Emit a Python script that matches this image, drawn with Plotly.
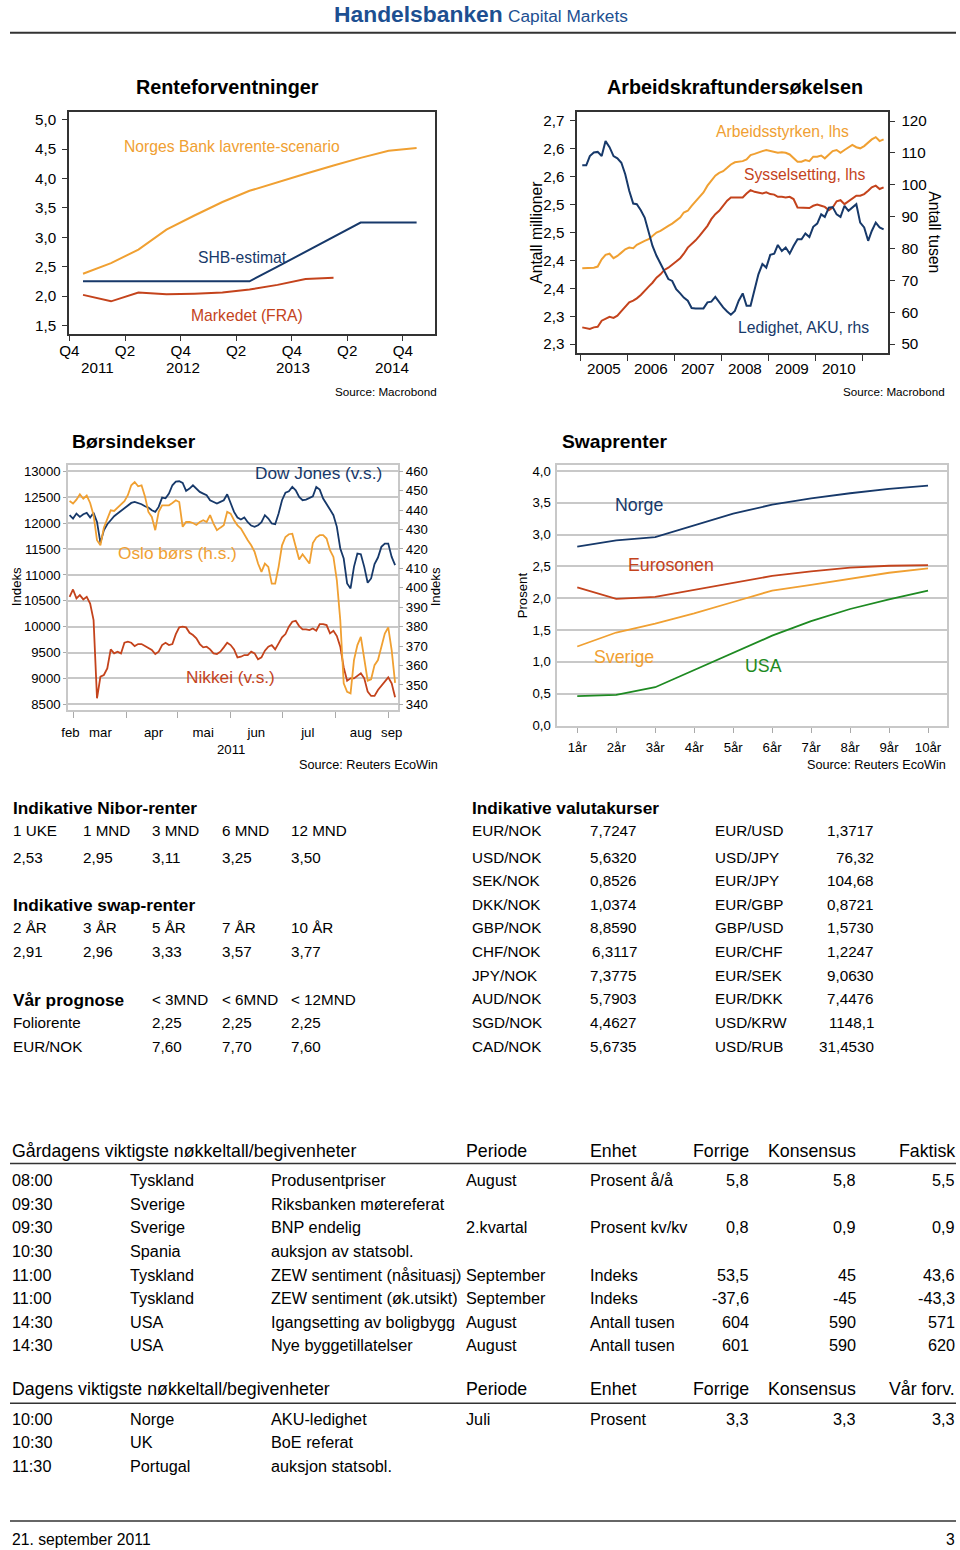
import pandas as pd
import plotly.graph_objects as go

# ======================= DATA =======================
# --- Renteforventninger (quarterly, plotted mid-quarter) ---
rente_dates = ["2011-11-15", "2012-02-15", "2012-05-15", "2012-08-15", "2012-11-15",
               "2013-02-15", "2013-05-15", "2013-08-15", "2013-11-15", "2014-02-15",
               "2014-05-15", "2014-08-15", "2014-11-15"]
norges_bank = [2.38, 2.56, 2.79, 3.13, 3.37, 3.60, 3.79, 3.94, 4.08, 4.22, 4.35, 4.47, 4.52]
shb_estimat = [2.25, 2.25, 2.25, 2.25, 2.25, 2.25, 2.25, 2.50, 2.75, 3.00, 3.25, 3.25, 3.25]
markedet_fra = [2.02, 1.91, 2.06, 2.03, 2.04, 2.06, 2.11, 2.19, 2.29, 2.31]
rente_tick_dates = ["2011-10-01", "2012-04-01", "2012-10-01", "2013-04-01",
                    "2013-10-01", "2014-04-01", "2014-10-01"]
rente_tick_text = ["Q4", "Q2", "Q4", "Q2", "Q4", "Q2", "Q4"]
rente_years = ["2011", "2012", "2013", "2014"]
rente_yticks = [1.5, 2.0, 2.5, 3.0, 3.5, 4.0, 4.5, 5.0]

# --- Arbeidskraftundersøkelsen (monthly, Jan 2005 - Jun 2011) ---
arbeidsstyrken = [2.436, 2.436, 2.436, 2.437, 2.439, 2.452, 2.460, 2.462, 2.454, 2.458,
                  2.464, 2.470, 2.473, 2.472, 2.478, 2.482, 2.485, 2.488, 2.494, 2.500,
                  2.503, 2.508, 2.512, 2.516, 2.521, 2.527, 2.536, 2.539, 2.548, 2.556,
                  2.562, 2.572, 2.584, 2.593, 2.602, 2.607, 2.610, 2.616, 2.622, 2.626,
                  2.627, 2.628, 2.631, 2.639, 2.641, 2.644, 2.646, 2.648, 2.646, 2.644,
                  2.643, 2.644, 2.643, 2.640, 2.633, 2.627, 2.627, 2.630, 2.628, 2.636,
                  2.636, 2.638, 2.633, 2.640, 2.646, 2.648, 2.643, 2.648, 2.652, 2.657,
                  2.653, 2.651, 2.655, 2.661, 2.667, 2.671, 2.664, 2.667]
sysselsetting = [2.330, 2.329, 2.327, 2.330, 2.331, 2.342, 2.345, 2.349, 2.347, 2.351,
                 2.359, 2.366, 2.375, 2.378, 2.382, 2.388, 2.396, 2.403, 2.410, 2.419,
                 2.425, 2.433, 2.437, 2.442, 2.448, 2.454, 2.462, 2.473, 2.479, 2.486,
                 2.494, 2.504, 2.512, 2.524, 2.533, 2.539, 2.548, 2.557, 2.563, 2.563,
                 2.562, 2.563, 2.570, 2.576, 2.573, 2.572, 2.570, 2.572, 2.569, 2.568,
                 2.564, 2.564, 2.563, 2.564, 2.560, 2.545, 2.545, 2.545, 2.544, 2.548,
                 2.550, 2.548, 2.546, 2.540, 2.545, 2.556, 2.558, 2.551, 2.556, 2.561,
                 2.566, 2.566, 2.569, 2.575, 2.581, 2.584, 2.578, 2.581]
ledighet = [106.1, 106.1, 109.0, 110.1, 110.3, 109.0, 113.7, 111.8, 109.0, 108.3,
            106.9, 103.3, 98.1, 94.1, 93.9, 92.0, 89.7, 85.5, 80.8, 77.7,
            75.3, 73.0, 70.4, 69.8, 67.2, 65.9, 64.6, 63.6, 61.3, 61.2,
            61.2, 61.2, 63.1, 63.3, 64.8, 63.1, 61.5, 60.2, 59.2, 60.4,
            63.6, 65.9, 62.0, 62.0, 66.7, 71.9, 75.1, 74.0, 78.0, 78.4,
            81.1, 79.2, 80.3, 78.4, 80.8, 82.9, 82.9, 84.7, 83.6, 86.8,
            87.8, 90.7, 89.9, 92.8, 93.0, 90.7, 89.9, 93.4, 91.8, 92.8,
            93.9, 88.1, 86.6, 82.4, 85.5, 88.1, 86.6, 86.0]
aku_years = [2005, 2006, 2007, 2008, 2009, 2010]
aku_left_ticks = [2.30, 2.35, 2.40, 2.45, 2.50, 2.55, 2.60, 2.65, 2.70]
aku_left_text = ["2,3", "2,3", "2,4", "2,4", "2,5", "2,5", "2,6", "2,6", "2,7"]
aku_right_ticks = [50, 60, 70, 80, 90, 100, 110, 120]

# --- Børsindekser (every second day from 27 Feb 2011) ---
dow_jones = [12152, 12087, 12184, 12120, 12171, 12197, 12107, 12197, 12023, 11618,
             11862, 11978, 12055, 12132, 12184, 12235, 12300, 12344, 12389, 12409,
             12389, 12364, 12325, 12300, 12248, 12216, 12312, 12492, 12479, 12569,
             12730, 12801, 12807, 12775, 12621, 12666, 12730, 12666, 12602, 12569,
             12537, 12441, 12409, 12377, 12409, 12441, 12557, 12377, 12216, 12107,
             12068, 12107, 12017, 11952, 11927, 11959, 12017, 12152, 12087, 11991,
             11978, 12184, 12441, 12589, 12614, 12698, 12634, 12505, 12441, 12454,
             12479, 12518, 12698, 12647, 12473, 12377, 12261, 12152, 11927, 11509,
             11316, 10834, 10738, 11155, 11413, 11400, 11155, 10847, 10931, 11207,
             11335, 11541, 11605, 11605, 11348, 11188]
oslo_bors = [444.7, 443.4, 445.4, 448.2, 445.9, 447.5, 443.7, 437.4, 424.5, 421.9,
             431.0, 436.0, 439.9, 439.6, 441.3, 443.4, 444.6, 447.7, 452.8, 454.5,
             452.3, 452.8, 447.1, 439.1, 436.5, 429.7, 439.1, 442.5, 442.5, 442.5,
             443.7, 445.1, 444.2, 431.4, 433.9, 433.9, 433.4, 432.4, 433.9, 434.8,
             433.9, 437.4, 433.1, 429.7, 431.0, 432.2, 439.1, 438.2, 434.8, 432.2,
             430.5, 427.1, 424.5, 421.9, 418.5, 412.5, 408.2, 412.5, 410.8, 402.2,
             402.2, 410.8, 421.9, 426.2, 427.6, 427.9, 421.9, 414.6, 417.3, 415.1,
             412.5, 423.1, 425.9, 427.1, 427.1, 425.4, 419.4, 415.9, 403.9, 383.4,
             350.8, 346.5, 345.7, 362.8, 370.5, 374.8, 362.8, 352.2, 352.9, 360.2,
             362.8, 369.7, 376.5, 379.6, 367.9, 351.1]
nikkei = [10577, 10718, 10545, 10609, 10526, 10577, 10448, 10127, 8617, 9035,
          9067, 9195, 9562, 9484, 9517, 9484, 9690, 9709, 9690, 9626,
          9664, 9664, 9626, 9581, 9549, 9472, 9517, 9645, 9690, 9645,
          9664, 9857, 9986, 9999, 9986, 9883, 9838, 9774, 9664, 9600,
          9613, 9562, 9484, 9472, 9517, 9600, 9690, 9645, 9562, 9407,
          9420, 9452, 9452, 9517, 9484, 9369, 9407, 9536, 9613, 9645,
          9562, 9677, 9793, 9857, 9999, 10095, 10114, 10011, 9947, 9947,
          9934, 9966, 9921, 10050, 10050, 10031, 9870, 9921, 9819, 9613,
          9214, 8957, 9002, 9002, 9047, 9099, 9002, 8745, 8662, 8662,
          8777, 8855, 8938, 9022, 8906, 8636]
bors_months = ["feb", "mar", "apr", "mai", "jun", "jul", "aug", "sep"]
bors_label_dates = ["2011-02-27 12:00", "2011-03-17", "2011-04-17", "2011-05-16",
                    "2011-06-16", "2011-07-16", "2011-08-16", "2011-09-03"]
bors_month_starts = ["2011-03-01", "2011-04-01", "2011-05-01", "2011-06-01",
                     "2011-07-01", "2011-08-01", "2011-09-01"]
bors_left_ticks = [8500, 9000, 9500, 10000, 10500, 11000, 11500, 12000, 12500, 13000]
bors_right_ticks = [340, 350, 360, 370, 380, 390, 400, 410, 420, 430, 440, 450, 460]

# --- Swaprenter ---
tenors = ["1år", "2år", "3år", "4år", "5år", "6år", "7år", "8år", "9år", "10år"]
swap_norge = [2.81, 2.91, 2.96, 3.15, 3.33, 3.47, 3.57, 3.65, 3.72, 3.77]
swap_euro = [2.17, 1.99, 2.02, 2.13, 2.24, 2.35, 2.42, 2.48, 2.51, 2.52]
swap_sverige = [1.24, 1.46, 1.60, 1.76, 1.94, 2.12, 2.21, 2.31, 2.40, 2.47]
swap_usa = [0.46, 0.48, 0.60, 0.87, 1.14, 1.41, 1.64, 1.83, 1.98, 2.12]
swap_yticks = [0.0, 0.5, 1.0, 1.5, 2.0, 2.5, 3.0, 3.5, 4.0]

# --- Tables ---
nibor_tenors = ["1 UKE", "1 MND", "3 MND", "6 MND", "12 MND"]
nibor_rates = ["2,53", "2,95", "3,11", "3,25", "3,50"]
swap_tenors = ["2 ÅR", "3 ÅR", "5 ÅR", "7 ÅR", "10 ÅR"]
swap_rates = ["2,91", "2,96", "3,33", "3,57", "3,77"]
prognose_horizons = ["< 3MND", "< 6MND", "< 12MND"]
prognose_rows = ["Foliorente", "EUR/NOK"]
prognose_values = [["2,25", "2,25", "2,25"], ["7,60", "7,70", "7,60"]]

fx_left_names = ["EUR/NOK", "USD/NOK", "SEK/NOK", "DKK/NOK", "GBP/NOK",
                 "CHF/NOK", "JPY/NOK", "AUD/NOK", "SGD/NOK", "CAD/NOK"]
fx_left_values = ["7,7247", "5,6320", "0,8526", "1,0374", "8,8590",
                  "6,3117", "7,3775", "5,7903", "4,4627", "5,6735"]
fx_right_names = ["EUR/USD", "USD/JPY", "EUR/JPY", "EUR/GBP", "GBP/USD",
                  "EUR/CHF", "EUR/SEK", "EUR/DKK", "USD/KRW", "USD/RUB"]
fx_right_values = ["1,3717", "76,32", "104,68", "0,8721", "1,5730",
                   "1,2247", "9,0630", "7,4476", "1148,1", "31,4530"]

ev_headers_y = ["Gårdagens viktigste nøkkeltall/begivenheter", "Periode", "Enhet",
                "Forrige", "Konsensus", "Faktisk"]
ev_time_y = ["08:00", "09:30", "09:30", "10:30", "11:00", "11:00", "14:30", "14:30"]
ev_country_y = ["Tyskland", "Sverige", "Sverige", "Spania", "Tyskland", "Tyskland", "USA", "USA"]
ev_event_y = ["Produsentpriser", "Riksbanken møtereferat", "BNP endelig", "auksjon av statsobl.",
              "ZEW sentiment (nåsituasj)", "ZEW sentiment (øk.utsikt)",
              "Igangsetting av boligbygg", "Nye byggetillatelser"]
ev_period_y = ["August", "", "2.kvartal", "", "September", "September", "August", "August"]
ev_unit_y = ["Prosent å/å", "", "Prosent kv/kv", "", "Indeks", "Indeks", "Antall tusen", "Antall tusen"]
ev_prev_y = ["5,8", "", "0,8", "", "53,5", "-37,6", "604", "601"]
ev_cons_y = ["5,8", "", "0,9", "", "45", "-45", "590", "590"]
ev_act_y = ["5,5", "", "0,9", "", "43,6", "-43,3", "571", "620"]

ev_headers_t = ["Dagens viktigste nøkkeltall/begivenheter", "Periode", "Enhet",
                "Forrige", "Konsensus", "Vår forv."]
ev_time_t = ["10:00", "10:30", "11:30"]
ev_country_t = ["Norge", "UK", "Portugal"]
ev_event_t = ["AKU-ledighet", "BoE referat", "auksjon statsobl."]
ev_period_t = ["Juli", "", ""]
ev_unit_t = ["Prosent", "", ""]
ev_prev_t = ["3,3", "", ""]
ev_cons_t = ["3,3", "", ""]
ev_fc_t = ["3,3", "", ""]

# ======================= STYLE =======================
# Positions below are given in screenshot pixels; the photographed page maps
# figure pixels to screenshot pixels as  X = 10 + 0.985*x,  Y = 1.2 + 0.9953*y.
FW, FH = 960, 1550
SX, OXI = 0.985, 10.0
SY, OYI = 0.9953, 1.2
FS = 1 / SX
FONT = "Liberation Sans, Arial, sans-serif"
ORANGE = "#F0A032"
NAVY = "#17396A"
RED = "#C4431C"
GREEN = "#1E8A22"
DARK = "#333333"
LIGHT = "#C8C8C8"


def px(x):
    return ((x - OXI) / SX) / FW


def py(y):
    return 1 - ((y - OYI) / SY) / FH


def comma(v, d=1):
    return f"{v:.{d}f}".replace(".", ",")


def f(size):
    return dict(size=size * FS, family=FONT, color="#000")


annotations = []


def A(x, y, text, size=15, color="#000", bold=False, xanchor="left", angle=0):
    shift = -2 if xanchor == "left" else (2 if xanchor == "right" else 0)
    xx = max(px(x + shift), 0.0)
    annotations.append(dict(
        x=xx, y=py(y), xref="paper", yref="paper",
        text=f"<b>{text}</b>" if bold else text, showarrow=False,
        xanchor=xanchor, yanchor="middle", textangle=angle,
        font=dict(size=size * FS, color=color, family=FONT)))


fig = go.Figure()


def line(x, y, color, xa, ya, width=2.0):
    fig.add_trace(go.Scatter(x=x, y=y, mode="lines", line=dict(color=color, width=width),
                             xaxis=xa, yaxis=ya, showlegend=False, hoverinfo="skip"))


# ---- chart 1
line(rente_dates, norges_bank, ORANGE, "x", "y")
line(rente_dates, shb_estimat, NAVY, "x", "y")
line(rente_dates[:len(markedet_fra)], markedet_fra, RED, "x", "y")

# ---- chart 2
aku_dates = pd.date_range("2005-01-01", periods=len(arbeidsstyrken), freq="MS") + pd.Timedelta(days=14)
line(aku_dates, arbeidsstyrken, ORANGE, "x2", "y2")
line(aku_dates[:len(sysselsetting)], sysselsetting, RED, "x2", "y2")
line(aku_dates[:len(ledighet)], ledighet, NAVY, "x2", "y3")

# ---- chart 3
bors_dates = pd.date_range("2011-02-27", periods=len(dow_jones), freq="2D")
line(bors_dates, dow_jones, NAVY, "x3", "y4", 1.8)
line(bors_dates[:len(oslo_bors)], oslo_bors, ORANGE, "x3", "y5", 1.8)
line(bors_dates[:len(nikkei)], nikkei, RED, "x3", "y4", 1.8)

# ---- chart 4
line(tenors, swap_norge, NAVY, "x4", "y6", 1.8)
line(tenors, swap_euro, RED, "x4", "y6", 1.8)
line(tenors, swap_sverige, ORANGE, "x4", "y6", 1.8)
line(tenors, swap_usa, GREEN, "x4", "y6", 1.8)

layout = dict(
    width=FW, height=FH, autosize=False,
    margin=dict(l=0, r=0, t=0, b=0),
    paper_bgcolor="white", plot_bgcolor="white",
    showlegend=False,
    font=dict(family=FONT, color="#000"),
    # chart 1
    xaxis=dict(domain=[px(69), px(435)], anchor="y", type="date",
               range=["2011-09-30", "2015-01-15"], tickmode="array",
               tickvals=rente_tick_dates, ticktext=rente_tick_text,
               ticks="", showline=True, mirror=True,
               linecolor=DARK, linewidth=1.5, showgrid=False, zeroline=False, tickfont=f(15),
               ticklabelstandoff=2,
               minor=dict(tickmode="array", tickvals=rente_tick_dates, ticks="outside",
                          ticklen=5, tickcolor=DARK, showgrid=False)),
    yaxis=dict(domain=[py(334), py(111)], anchor="x", range=[1.347, 5.136],
               tickmode="array", tickvals=rente_yticks,
               ticktext=[comma(v) for v in rente_yticks],
               ticks="outside", ticklen=5, tickcolor=DARK, showline=True, mirror=True,
               linecolor=DARK, linewidth=1.5, showgrid=False, zeroline=False, tickfont=f(15),
               ticklabelstandoff=3),
    # chart 2
    xaxis2=dict(domain=[px(577), px(888)], anchor="y2", type="date",
                range=["2004-12-07", "2011-07-22"], tickmode="array",
                tickvals=[f"{y}-07-02" for y in aku_years], ticktext=[str(y) for y in aku_years],
                ticks="", showline=True, mirror=True, linecolor=DARK, linewidth=1.5,
                showgrid=False, zeroline=False, tickfont=f(15), ticklabelstandoff=1,
                minor=dict(tickmode="array",
                           tickvals=[f"{y}-01-01" for y in aku_years + [aku_years[-1] + 1]],
                           ticks="outside", ticklen=6, tickcolor=DARK, showgrid=False)),
    yaxis2=dict(domain=[py(353), py(111)], anchor="x2", range=[2.2833, 2.7167],
                tickmode="array", tickvals=aku_left_ticks, ticktext=aku_left_text,
                ticks="outside", ticklen=5, tickcolor=DARK, showline=True, mirror=True,
                linecolor=DARK, linewidth=1.5, showgrid=False, zeroline=False, tickfont=f(15),
                ticklabelstandoff=3),
    yaxis3=dict(overlaying="y2", side="right", anchor="x2", range=[47.07, 122.93],
                tickmode="array", tickvals=aku_right_ticks,
                ticktext=[str(v) for v in aku_right_ticks],
                ticks="outside", ticklen=6, tickcolor=DARK, showline=False,
                showgrid=False, zeroline=False, tickfont=f(15), ticklabelstandoff=3),
    # chart 3
    xaxis3=dict(domain=[px(68), px(398)], anchor="y4", type="date",
                range=["2011-02-26 02:00", "2011-09-06 19:00"], tickmode="array",
                tickvals=bors_label_dates, ticktext=bors_months, ticks="",
                showline=True, mirror=True, linecolor=LIGHT, linewidth=1.5,
                showgrid=False, zeroline=False, tickfont=f(13), ticklabelstandoff=9,
                minor=dict(tickmode="array", tickvals=bors_month_starts, ticks="outside",
                           ticklen=6, tickcolor="#AAAAAA", showgrid=False)),
    yaxis4=dict(domain=[py(710), py(465)], anchor="x3", range=[8391, 13116],
                tickmode="array", tickvals=bors_left_ticks,
                ticktext=[str(v) for v in bors_left_ticks],
                ticks="outside", ticklen=3, tickcolor="#AAAAAA", showline=True, mirror=True,
                linecolor=LIGHT, linewidth=1.5, showgrid=True, gridcolor=LIGHT, gridwidth=1.5,
                zeroline=False, tickfont=f(13), ticklabelstandoff=0),
    yaxis5=dict(overlaying="y4", side="right", anchor="x3", range=[337.1, 463.1],
                tickmode="array", tickvals=bors_right_ticks,
                ticktext=[str(v) for v in bors_right_ticks],
                ticks="outside", ticklen=4, tickcolor="#AAAAAA", showline=False,
                showgrid=False, zeroline=False, tickfont=f(13), ticklabelstandoff=0),
    # chart 4
    xaxis4=dict(domain=[px(557), px(947)], anchor="y6", type="category",
                range=[-0.514, 9.497], ticks="outside", ticklen=5, tickcolor="#AAAAAA",
                showline=True, mirror=True, linecolor=LIGHT, linewidth=1.5,
                showgrid=False, zeroline=False, tickfont=f(13), ticklabelstandoff=3),
    yaxis6=dict(domain=[py(726), py(465)], anchor="x4", range=[-0.01, 4.09],
                tickmode="array", tickvals=swap_yticks,
                ticktext=[comma(v) for v in swap_yticks],
                ticks="", showline=True, mirror=True, linecolor=LIGHT, linewidth=1.5,
                showgrid=True, gridcolor=LIGHT, gridwidth=1.5, zeroline=False,
                tickfont=f(13), ticklabelstandoff=2),
)

# ---------- header ----------
A(503, 13, "Handelsbanken", size=22.5, color="#1D4F91", bold=True, xanchor="right")
A(508, 15, "Capital Markets", size=17, color="#1D4F91")

# ---------- chart 1 texts ----------
A(227, 86, "Renteforventninger", size=19.5, bold=True, xanchor="center")
A(232, 146, "Norges Bank lavrente-scenario", size=15.5, color=ORANGE, xanchor="center")
A(242, 257, "SHB-estimat", size=15.5, color=NAVY, xanchor="center")
A(247, 315, "Markedet (FRA)", size=15.5, color=RED, xanchor="center")
for yr, xp in zip(rente_years, [97, 183, 293, 392]):
    A(xp, 367, yr, size=15, xanchor="center")
A(437, 391, "Source: Macrobond", size=11.5, xanchor="right")

# ---------- chart 2 texts ----------
A(735, 86, "Arbeidskraftundersøkelsen", size=19.5, bold=True, xanchor="center")
A(782, 131, "Arbeidsstyrken, lhs", size=15.5, color=ORANGE, xanchor="center")
A(805, 174, "Sysselsetting, lhs", size=15.5, color=RED, xanchor="center")
A(803, 327, "Ledighet, AKU, rhs", size=15.5, color=NAVY, xanchor="center")
A(536, 232, "Antall millioner", size=15.5, xanchor="center", angle=-90)
A(934, 232, "Antall tusen", size=15.5, xanchor="center", angle=90)
A(945, 391, "Source: Macrobond", size=11.5, xanchor="right")

# ---------- chart 3 texts ----------
A(72, 441, "Børsindekser", size=19, bold=True)
A(318, 473, "Dow Jones (v.s.)", size=17, color=NAVY, xanchor="center")
A(177, 553, "Oslo børs (h.s.)", size=17, color=ORANGE, xanchor="center")
A(230, 677, "Nikkei (v.s.)", size=17, color=RED, xanchor="center")
A(16, 587, "Indeks", size=13, xanchor="center", angle=-90)
A(435, 587, "Indeks", size=13, xanchor="center", angle=-90)
A(231, 750, "2011", size=13, xanchor="center")
A(438, 765, "Source: Reuters EcoWin", size=12.5, xanchor="right")

# ---------- chart 4 texts ----------
A(562, 441, "Swaprenter", size=19, bold=True)
A(639, 505, "Norge", size=17.5, color=NAVY, xanchor="center")
A(671, 565, "Eurosonen", size=17.5, color=RED, xanchor="center")
A(624, 657, "Sverige", size=17.5, color=ORANGE, xanchor="center")
A(763, 666, "USA", size=17.5, color=GREEN, xanchor="center")
A(522, 595, "Prosent", size=13, xanchor="center", angle=-90)
A(946, 765, "Source: Reuters EcoWin", size=12.5, xanchor="right")

# ---------- left tables ----------
cols5 = [13, 83, 152, 222, 291]
A(13, 808, "Indikative Nibor-renter", size=17, bold=True)
for xp, t in zip(cols5, nibor_tenors):
    A(xp, 831, t, size=15)
for xp, t in zip(cols5, nibor_rates):
    A(xp, 858, t, size=15)
A(13, 905, "Indikative swap-renter", size=17, bold=True)
for xp, t in zip(cols5, swap_tenors):
    A(xp, 928, t, size=15)
for xp, t in zip(cols5, swap_rates):
    A(xp, 952, t, size=15)
A(13, 1000, "Vår prognose", size=17, bold=True)
for xp, t in zip(cols5[2:], prognose_horizons):
    A(xp, 1000, t, size=15)
for yp, name, vals in zip([1023, 1047], prognose_rows, prognose_values):
    A(13, yp, name, size=15)
    for xp, t in zip(cols5[2:], vals):
        A(xp, yp, t, size=15)

# ---------- fx table ----------
A(472, 808, "Indikative valutakurser", size=17, bold=True)
fx_rows_y = [831, 858, 881, 905, 928, 952, 976, 999, 1023, 1047]
for yp, n1, v1, n2, v2 in zip(fx_rows_y, fx_left_names, fx_left_values,
                              fx_right_names, fx_right_values):
    A(472, yp, n1, size=15)
    A(637, yp, v1, size=15, xanchor="right")
    A(715, yp, n2, size=15)
    A(874, yp, v2, size=15, xanchor="right")

# ---------- event tables ----------
col_left = [8, 130, 271, 466, 590]
col_right = [749, 856, 955]


def event_table(y_head, headers, rows_y, cols):
    A(8, y_head, headers[0], size=17.5)
    A(466, y_head, headers[1], size=17.5)
    A(590, y_head, headers[2], size=17.5)
    for xp, h in zip(col_right, headers[3:]):
        A(xp, y_head, h, size=17.5, xanchor="right")
    for i, yp in enumerate(rows_y):
        for xp, c in zip(col_left, cols[:5]):
            if c[i]:
                A(xp, yp, c[i], size=16)
        for xp, c in zip(col_right, cols[5:]):
            if c[i]:
                A(xp, yp, c[i], size=16, xanchor="right")


event_table(1151, ev_headers_y, [1181, 1205, 1228, 1252, 1276, 1299, 1323, 1346],
            [ev_time_y, ev_country_y, ev_event_y, ev_period_y, ev_unit_y,
             ev_prev_y, ev_cons_y, ev_act_y])
event_table(1390, ev_headers_t, [1420, 1443, 1467],
            [ev_time_t, ev_country_t, ev_event_t, ev_period_t, ev_unit_t,
             ev_prev_t, ev_cons_t, ev_fc_t])

A(8, 1540, "21. september 2011", size=15.5)
A(955, 1540, "3", size=15.5, xanchor="right")

shapes = []
for yl, w in [(32, 2), (1164, 1.5), (1404, 1.5), (1522, 1.5)]:
    shapes.append(dict(type="line", xref="paper", yref="paper",
                       x0=max(px(3), 0), x1=min(px(957), 1),
                       y0=py(yl), y1=py(yl), line=dict(color="#333333", width=w)))

layout["annotations"] = annotations
layout["shapes"] = shapes
fig.update_layout(**layout)
fig.write_html("out.html")
